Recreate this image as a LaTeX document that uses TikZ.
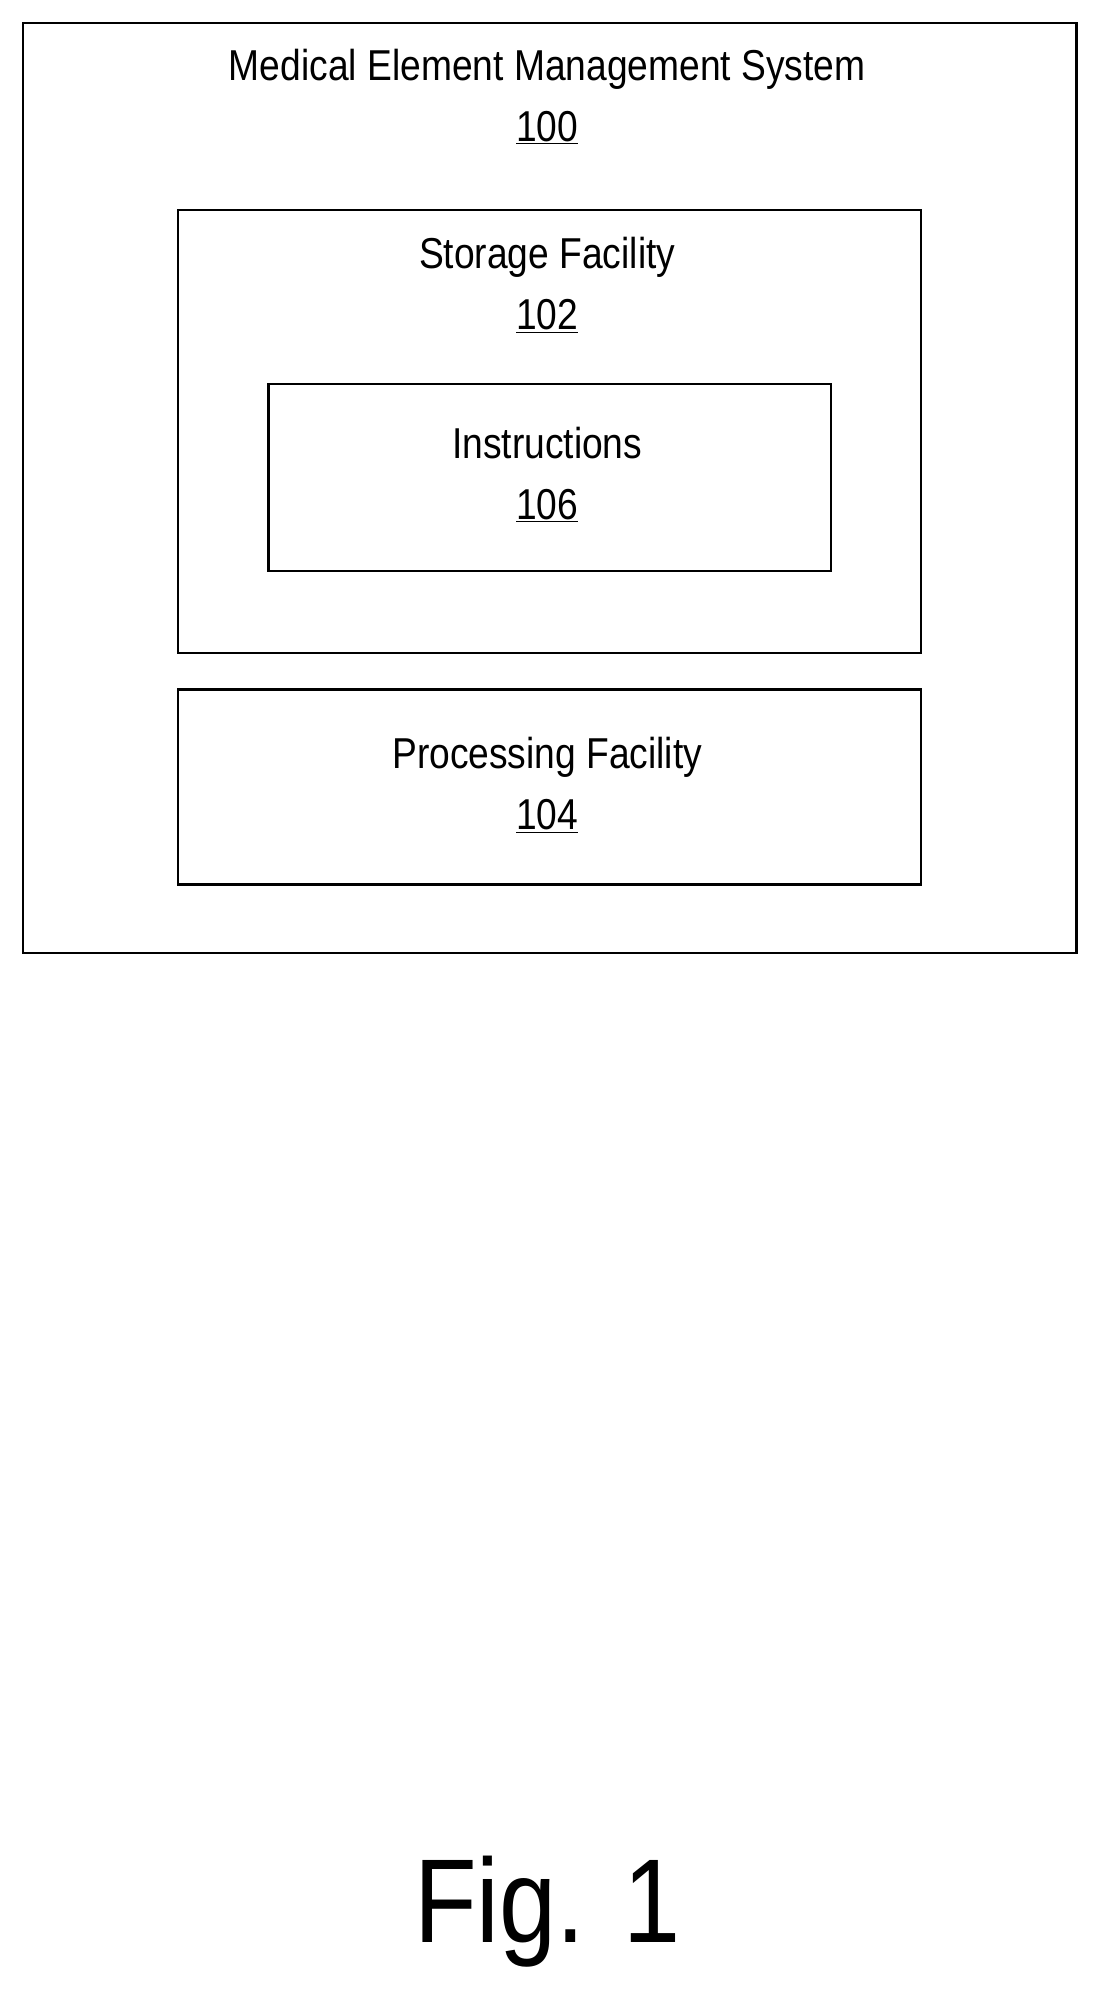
\documentclass[tikz,border=0pt]{standalone}
\usepackage{fontspec}
\setmainfont[FakeStretch=0.86]{Liberation Sans}
\usetikzlibrary{positioning}
\tikzset{
box/.style={draw,line width=1.6pt,anchor=north west,inner sep=0pt},
label/.style={align=center,font=\fontsize{29}{41}\selectfont,inner sep=0pt}
}
\begin{document}
\begin{tikzpicture}[x=0.03cm,y=-0.03cm]
\useasboundingbox (0,0) rectangle (860,1563);
% the boxes
\node[box,minimum width=828*0.03cm,minimum height=731*0.03cm] (system) at (17,17) {};
\node[box,minimum width=584*0.03cm,minimum height=348*0.03cm] (storage) at (139,164) {};
\node[box,minimum width=442*0.03cm,minimum height=147*0.03cm] (instr) at (210,301) {};
\node[box,minimum width=584*0.03cm,minimum height=153*0.03cm] (proc) at (139,541) {};
% the labels
\node[label] (systemtext) at (430,76) {Medical Element Management System\\\underline{100}};
\node[label] (storagetext) at (430,224) {Storage Facility\\\underline{102}};
\node[label] (instrtext) at (430,373) {Instructions\\\underline{106}};
\node[label] (proctext) at (430,617) {Processing Facility\\\underline{104}};
\node[font=\fontsize{80}{90}\selectfont,inner sep=0pt] (fig) at (430,1502) {Fig. 1};
\end{tikzpicture}
\end{document}
